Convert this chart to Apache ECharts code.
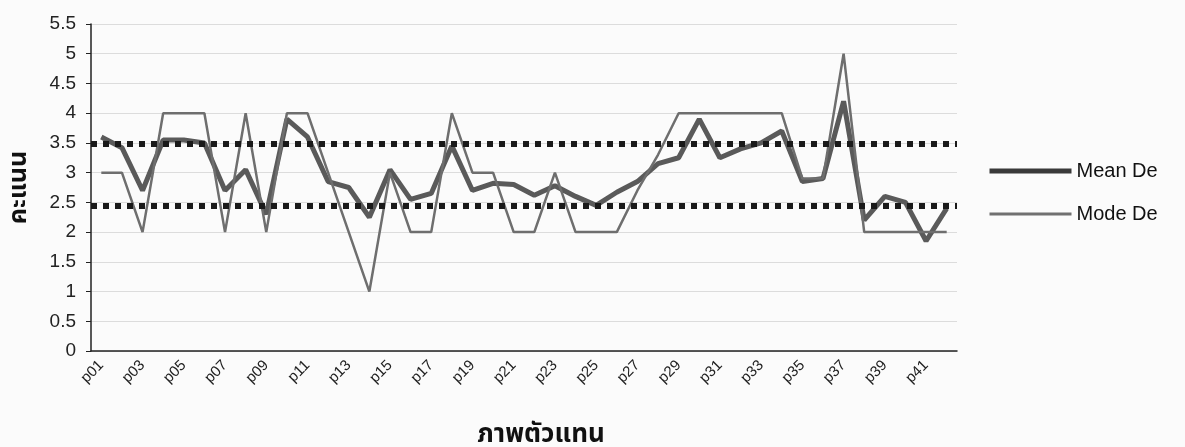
<!DOCTYPE html>
<html>
<head>
<meta charset="utf-8">
<script src="https://cdn.jsdelivr.net/npm/echarts@6/dist/echarts.min.js"></script>
<style>
  html, body { margin: 0; padding: 0; background: #fbfbfb; }
  #chart { width: 1185px; height: 447px; }
</style>
</head>
<body>
<div id="chart"></div>
<script>
  // หมวดหมู่ (แกน x)
  const categories = ['p01','p02','p03','p04','p05','p06','p07','p08','p09','p10',
    'p11','p12','p13','p14','p15','p16','p17','p18','p19','p20',
    'p21','p22','p23','p24','p25','p26','p27','p28','p29','p30',
    'p31','p32','p33','p34','p35','p36','p37','p38','p39','p40',
    'p41','p42'];

  const meanDe = [3.6, 3.42, 2.7, 3.55, 3.55, 3.5, 2.7, 3.05, 2.3, 3.9,
    3.6, 2.85, 2.75, 2.25, 3.05, 2.55, 2.65, 3.45, 2.7, 2.82,
    2.8, 2.62, 2.78, 2.6, 2.45, 2.67, 2.85, 3.15, 3.25, 3.9,
    3.25, 3.4, 3.5, 3.7, 2.85, 2.9, 4.2, 2.2, 2.6, 2.5,
    1.85, 2.4];

  const modeDe = [3, 3, 2, 4, 4, 4, 2, 4, 2, 4,
    4, 3, 2, 1, 3, 2, 2, 4, 3, 3,
    2, 2, 3, 2, 2, 2, 2.7, 3.3, 4, 4,
    4, 4, 4, 4, 2.9, 2.9, 5, 2, 2, 2,
    2, 2];

  // เส้นเกณฑ์ (เส้นประ)
  const thresholds = [3.48, 2.44];

  const font = 'Arial, "Liberation Sans", "Noto Sans Thai", "DejaVu Sans", sans-serif';

  let myChart = echarts.init(document.getElementById('chart'));
  let option = {
    backgroundColor: '#fbfbfb',
    animation: false,
    grid: { left: 91, right: 228, top: 24, bottom: 96, outerBoundsMode: 'none', containLabel: false },
    legend: {
      orient: 'vertical',
      left: 982,
      top: 156,
      itemWidth: 82,
      itemHeight: 14,
      itemGap: 23,
      itemStyle: { opacity: 0 },
      textStyle: { color: '#111', fontSize: 20, fontFamily: font },
      data: [
        { name: 'Mean De', lineStyle: { width: 5, color: '#3a3a3a' } },
        { name: 'Mode De', lineStyle: { width: 3, color: '#707070' } }
      ]
    },
    xAxis: {
      type: 'category',
      data: categories,
      boundaryGap: true,
      name: 'ภาพตัวแทน',
      nameLocation: 'middle',
      nameGap: 71,
      nameTextStyle: { fontSize: 26, fontWeight: 'bold', color: '#111', fontFamily: font, padding: [0, 0, 0, 34] },
      axisLine: { lineStyle: { color: '#222', width: 1.5 } },
      axisTick: { interval: 0, length: 5, lineStyle: { color: '#222' } },
      axisLabel: { interval: 1, rotate: 45, fontSize: 15, color: '#222', fontFamily: font, margin: 12 },
      splitLine: { show: false }
    },
    yAxis: {
      type: 'value',
      min: 0,
      max: 5.5,
      interval: 0.5,
      name: 'คะแนน',
      nameLocation: 'middle',
      nameGap: 59,
      nameRotate: 90,
      nameTextStyle: { fontSize: 25, fontWeight: 'bold', color: '#111', fontFamily: font },
      axisLine: { show: true, lineStyle: { color: '#222', width: 1.5 } },
      axisTick: { show: true, length: 5, lineStyle: { color: '#222' } },
      axisLabel: { fontSize: 19, color: '#222', fontFamily: font, margin: 15 },
      splitLine: { lineStyle: { color: '#dcdcdc', width: 1 } }
    },
    series: [
      {
        name: 'Mean De',
        type: 'line',
        data: meanDe,
        symbol: 'none',
        color: '#3c3c3c',
        lineStyle: { color: '#5a5a5a', width: 5 },
        markLine: {
          silent: true,
          symbol: 'none',
          label: { show: false },
          lineStyle: { color: '#1a1a1a', width: 6, type: [6, 6], cap: 'butt' },
          data: thresholds.map(v => ({ yAxis: v }))
        }
      },
      {
        name: 'Mode De',
        type: 'line',
        data: modeDe,
        symbol: 'none',
        color: '#707070',
        lineStyle: { color: '#6e6e6e', width: 2.5 }
      }
    ]
  };
  myChart.setOption(option);
</script>
</body>
</html>
